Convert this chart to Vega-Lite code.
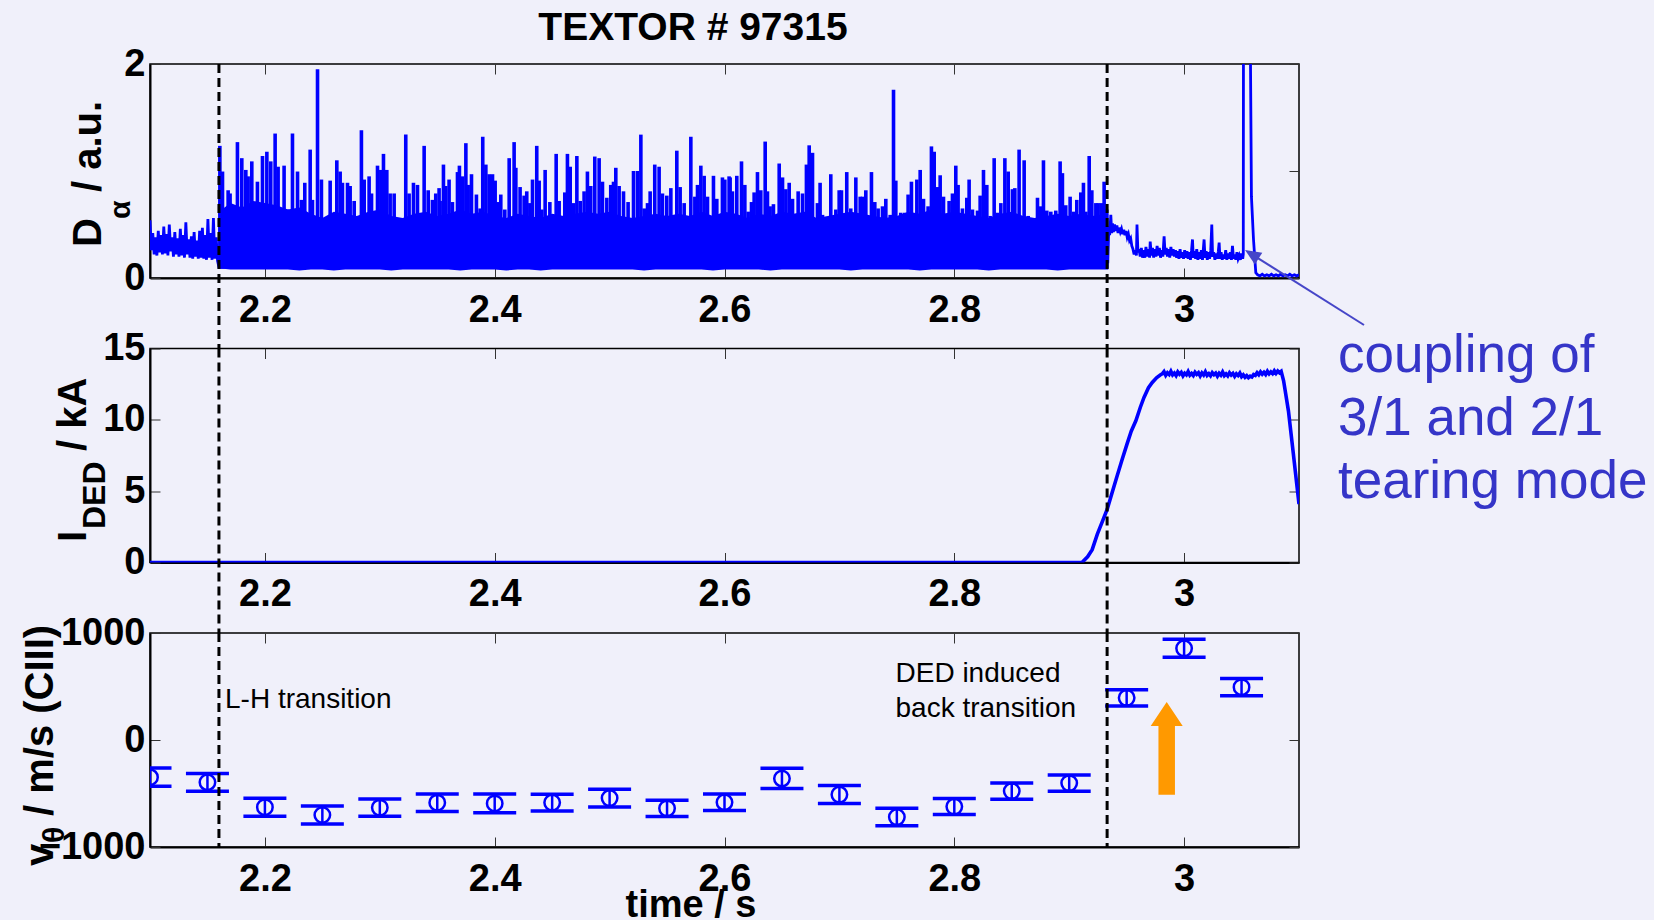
{
"$schema": "https://vega.github.io/schema/vega-lite/v6.json",
"background": "#f0f0fa",
"padding": {"left": 20, "top": 8, "right": 5, "bottom": 0},
"bounds": "flush",
"spacing": 70.5,
"config": {
 "view": {"stroke": "#000000", "strokeWidth": 1.5},
 "axis": {"grid": false, "labelFont": "Liberation Sans", "labelFontWeight": "bold", "labelFontSize": 38, "labelColor": "#000000", "tickColor": "#333333", "tickSize": -10, "tickWidth": 1, "domainColor": "#000000", "domainWidth": 2, "labelOverlap": false, "labelFlush": false},
 "text": {"font": "Liberation Sans"}
},
"datasets": {
 "origin": [{"t": 2.1, "v": 0}],
 "events": [{"t": 2.16}, {"t": 2.933}],
 "da_line": [
  {"t":2.1,"v":0.54},{"t":2.1012,"v":0.26},{"t":2.1024,"v":0.42},{"t":2.1036,"v":0.22},{"t":2.1048,"v":0.38},{"t":2.106,"v":0.21},{"t":2.1072,"v":0.44},{"t":2.1084,"v":0.24},{"t":2.1096,"v":0.4},{"t":2.1108,"v":0.22},{"t":2.112,"v":0.48},{"t":2.1132,"v":0.23},{"t":2.1144,"v":0.41},{"t":2.1156,"v":0.21},{"t":2.1168,"v":0.5},{"t":2.118,"v":0.25},{"t":2.1192,"v":0.38},{"t":2.1204,"v":0.2},{"t":2.1216,"v":0.43},{"t":2.1228,"v":0.22},{"t":2.124,"v":0.37},{"t":2.1252,"v":0.2},{"t":2.1264,"v":0.46},{"t":2.1276,"v":0.21},{"t":2.1288,"v":0.4},{"t":2.13,"v":0.19},{"t":2.1312,"v":0.52},{"t":2.1324,"v":0.22},{"t":2.1336,"v":0.36},{"t":2.1348,"v":0.19},{"t":2.136,"v":0.39},{"t":2.1372,"v":0.18},{"t":2.1384,"v":0.43},{"t":2.1396,"v":0.2},{"t":2.1408,"v":0.35},{"t":2.142,"v":0.18},{"t":2.1432,"v":0.44},{"t":2.1444,"v":0.19},{"t":2.1456,"v":0.47},{"t":2.1468,"v":0.18},{"t":2.148,"v":0.4},{"t":2.1492,"v":0.17},{"t":2.1504,"v":0.55},{"t":2.1516,"v":0.19},{"t":2.1528,"v":0.42},{"t":2.154,"v":0.17},{"t":2.1552,"v":0.56},{"t":2.1564,"v":0.18},{"t":2.1576,"v":0.38},{"t":2.1588,"v":0.16},{"t":2.16,"v":0.1},
  {"t":2.9336,"v":0.15},{"t":2.9345,"v":0.48},{"t":2.9352,"v":0.4},{"t":2.9362,"v":0.59},{"t":2.937,"v":0.42},{"t":2.9377,"v":0.51},{"t":2.9385,"v":0.43},{"t":2.9395,"v":0.5},{"t":2.9405,"v":0.44},{"t":2.9415,"v":0.49},{"t":2.9425,"v":0.42},{"t":2.9435,"v":0.47},{"t":2.9445,"v":0.43},{"t":2.9455,"v":0.46},{"t":2.9465,"v":0.41},{"t":2.9475,"v":0.45},{"t":2.9485,"v":0.4},{"t":2.9495,"v":0.44},{"t":2.9505,"v":0.38},{"t":2.9515,"v":0.41},{"t":2.9525,"v":0.35},{"t":2.9535,"v":0.37},{"t":2.9545,"v":0.3},{"t":2.9555,"v":0.27},{"t":2.9565,"v":0.22},{"t":2.9575,"v":0.26},{"t":2.9585,"v":0.21},{"t":2.959,"v":0.5},{"t":2.9598,"v":0.24},{"t":2.9608,"v":0.27},{"t":2.9618,"v":0.2},{"t":2.9628,"v":0.28},{"t":2.9638,"v":0.19},{"t":2.9648,"v":0.26},{"t":2.9658,"v":0.19},{"t":2.9668,"v":0.29},{"t":2.9678,"v":0.2},{"t":2.969,"v":0.27},{"t":2.97,"v":0.19},{"t":2.9705,"v":0.34},{"t":2.9715,"v":0.21},{"t":2.9725,"v":0.28},{"t":2.9735,"v":0.19},{"t":2.9745,"v":0.27},{"t":2.9755,"v":0.2},{"t":2.9765,"v":0.3},{"t":2.9775,"v":0.21},{"t":2.9785,"v":0.28},{"t":2.9795,"v":0.19},{"t":2.9805,"v":0.26},{"t":2.9815,"v":0.2},{"t":2.9826,"v":0.39},{"t":2.9835,"v":0.22},{"t":2.9845,"v":0.28},{"t":2.9855,"v":0.2},{"t":2.9865,"v":0.27},{"t":2.9875,"v":0.19},{"t":2.9885,"v":0.29},{"t":2.9895,"v":0.21},{"t":2.9905,"v":0.27},{"t":2.9915,"v":0.2},{"t":2.9925,"v":0.26},{"t":2.9935,"v":0.19},{"t":2.9945,"v":0.25},{"t":2.9955,"v":0.18},{"t":2.9965,"v":0.27},{"t":2.9975,"v":0.19},{"t":2.9985,"v":0.24},{"t":2.9995,"v":0.18},{"t":3.0005,"v":0.26},{"t":3.0015,"v":0.19},{"t":3.0025,"v":0.25},{"t":3.0035,"v":0.18},{"t":3.0045,"v":0.24},{"t":3.0055,"v":0.17},{"t":3.0065,"v":0.26},{"t":3.0073,"v":0.36},{"t":3.008,"v":0.19},{"t":3.009,"v":0.25},{"t":3.01,"v":0.18},{"t":3.011,"v":0.27},{"t":3.012,"v":0.17},{"t":3.013,"v":0.24},{"t":3.014,"v":0.18},{"t":3.015,"v":0.26},{"t":3.016,"v":0.17},{"t":3.0174,"v":0.36},{"t":3.0182,"v":0.19},{"t":3.0192,"v":0.25},{"t":3.0202,"v":0.17},{"t":3.0212,"v":0.24},{"t":3.0222,"v":0.18},{"t":3.0232,"v":0.26},{"t":3.0241,"v":0.5},{"t":3.0248,"v":0.2},{"t":3.0258,"v":0.24},{"t":3.0268,"v":0.17},{"t":3.0278,"v":0.23},{"t":3.0288,"v":0.18},{"t":3.0298,"v":0.25},{"t":3.0305,"v":0.33},{"t":3.0312,"v":0.18},{"t":3.0322,"v":0.24},{"t":3.0332,"v":0.17},{"t":3.0342,"v":0.22},{"t":3.0352,"v":0.18},{"t":3.0362,"v":0.26},{"t":3.0372,"v":0.17},{"t":3.0382,"v":0.23},{"t":3.0392,"v":0.18},{"t":3.0402,"v":0.24},{"t":3.0412,"v":0.17},{"t":3.0421,"v":0.3},{"t":3.043,"v":0.18},{"t":3.044,"v":0.22},{"t":3.045,"v":0.17},{"t":3.046,"v":0.24},{"t":3.047,"v":0.18},{"t":3.048,"v":0.21},{"t":3.049,"v":0.17},{"t":3.05,"v":0.23},{"t":3.051,"v":0.18},{"t":3.0515,"v":0.22},{"t":3.0517,"v":2.6},{"t":3.0574,"v":2.6},{"t":3.0586,"v":0.76},{"t":3.0604,"v":0.36},{"t":3.0624,"v":0.05},{"t":3.064,"v":0.03},{"t":3.066,"v":0.02},{"t":3.068,"v":0.035},{"t":3.07,"v":0.02},{"t":3.072,"v":0.03},{"t":3.074,"v":0.02},{"t":3.076,"v":0.035},{"t":3.078,"v":0.02},{"t":3.08,"v":0.03},{"t":3.082,"v":0.02},{"t":3.084,"v":0.035},{"t":3.086,"v":0.02},{"t":3.088,"v":0.03},{"t":3.09,"v":0.02},{"t":3.092,"v":0.035},{"t":3.094,"v":0.02},{"t":3.096,"v":0.03},{"t":3.098,"v":0.02},{"t":3.1,"v":0.03}
 ],
 "da_band": [
  {"t":2.16,"lo":0.09,"hi":0.62},{"t":2.17,"lo":0.08,"hi":0.7},{"t":2.18,"lo":0.08,"hi":0.66},{"t":2.19,"lo":0.08,"hi":0.72},{"t":2.2,"lo":0.08,"hi":0.7},{"t":2.21,"lo":0.08,"hi":0.68},{"t":2.22,"lo":0.08,"hi":0.64},{"t":2.23,"lo":0.07,"hi":0.66},{"t":2.24,"lo":0.08,"hi":0.6},{"t":2.25,"lo":0.08,"hi":0.56},{"t":2.26,"lo":0.07,"hi":0.62},{"t":2.27,"lo":0.08,"hi":0.6},{"t":2.28,"lo":0.08,"hi":0.58},{"t":2.29,"lo":0.08,"hi":0.62},{"t":2.3,"lo":0.08,"hi":0.64},{"t":2.31,"lo":0.07,"hi":0.58},{"t":2.32,"lo":0.08,"hi":0.56},{"t":2.33,"lo":0.08,"hi":0.6},{"t":2.34,"lo":0.08,"hi":0.62},{"t":2.35,"lo":0.08,"hi":0.58},{"t":2.36,"lo":0.08,"hi":0.6},{"t":2.37,"lo":0.07,"hi":0.64},{"t":2.38,"lo":0.08,"hi":0.6},{"t":2.39,"lo":0.08,"hi":0.62},{"t":2.4,"lo":0.08,"hi":0.58},{"t":2.41,"lo":0.07,"hi":0.56},{"t":2.42,"lo":0.08,"hi":0.6},{"t":2.43,"lo":0.08,"hi":0.58},{"t":2.44,"lo":0.07,"hi":0.56},{"t":2.45,"lo":0.08,"hi":0.6},{"t":2.46,"lo":0.08,"hi":0.58},{"t":2.47,"lo":0.08,"hi":0.6},{"t":2.48,"lo":0.08,"hi":0.62},{"t":2.49,"lo":0.08,"hi":0.6},{"t":2.5,"lo":0.08,"hi":0.62},{"t":2.51,"lo":0.08,"hi":0.58},{"t":2.52,"lo":0.08,"hi":0.56},{"t":2.53,"lo":0.07,"hi":0.58},{"t":2.54,"lo":0.08,"hi":0.6},{"t":2.55,"lo":0.08,"hi":0.58},{"t":2.56,"lo":0.08,"hi":0.6},{"t":2.57,"lo":0.08,"hi":0.58},{"t":2.58,"lo":0.08,"hi":0.62},{"t":2.59,"lo":0.07,"hi":0.58},{"t":2.6,"lo":0.08,"hi":0.62},{"t":2.61,"lo":0.08,"hi":0.6},{"t":2.62,"lo":0.08,"hi":0.56},{"t":2.63,"lo":0.08,"hi":0.6},{"t":2.64,"lo":0.07,"hi":0.58},{"t":2.65,"lo":0.08,"hi":0.62},{"t":2.66,"lo":0.08,"hi":0.6},{"t":2.67,"lo":0.08,"hi":0.62},{"t":2.68,"lo":0.08,"hi":0.56},{"t":2.69,"lo":0.08,"hi":0.58},{"t":2.7,"lo":0.08,"hi":0.6},{"t":2.71,"lo":0.07,"hi":0.62},{"t":2.72,"lo":0.08,"hi":0.6},{"t":2.73,"lo":0.08,"hi":0.58},{"t":2.74,"lo":0.08,"hi":0.56},{"t":2.75,"lo":0.08,"hi":0.58},{"t":2.76,"lo":0.08,"hi":0.62},{"t":2.77,"lo":0.07,"hi":0.6},{"t":2.78,"lo":0.08,"hi":0.64},{"t":2.79,"lo":0.08,"hi":0.6},{"t":2.8,"lo":0.08,"hi":0.62},{"t":2.81,"lo":0.08,"hi":0.6},{"t":2.82,"lo":0.08,"hi":0.58},{"t":2.83,"lo":0.07,"hi":0.56},{"t":2.84,"lo":0.08,"hi":0.6},{"t":2.85,"lo":0.08,"hi":0.62},{"t":2.86,"lo":0.08,"hi":0.58},{"t":2.87,"lo":0.08,"hi":0.56},{"t":2.88,"lo":0.08,"hi":0.58},{"t":2.89,"lo":0.07,"hi":0.6},{"t":2.9,"lo":0.08,"hi":0.58},{"t":2.91,"lo":0.08,"hi":0.6},{"t":2.92,"lo":0.08,"hi":0.58},{"t":2.934,"lo":0.08,"hi":0.6}
 ],
 "da_spikes": [
  {"t":2.1608,"v":1.235},{"t":2.1631,"v":0.995},{"t":2.168,"v":0.82},{"t":2.1697,"v":0.79},{"t":2.1761,"v":1.27},{"t":2.1799,"v":1.12},{"t":2.1834,"v":1.01},{"t":2.1854,"v":0.95},{"t":2.1886,"v":1.09},{"t":2.1935,"v":0.9},{"t":2.1979,"v":1.14},{"t":2.2017,"v":1.18},{"t":2.2051,"v":1.09},{"t":2.2089,"v":1.35},{"t":2.2115,"v":1.04},{"t":2.2167,"v":1.05},{"t":2.2196,"v":0.64},{"t":2.224,"v":1.35},{"t":2.2284,"v":0.995},{"t":2.2318,"v":0.73},{"t":2.2347,"v":0.89},{"t":2.2394,"v":1.2},{"t":2.2414,"v":0.73},{"t":2.2458,"v":1.95},{"t":2.2492,"v":0.92},{"t":2.253,"v":0.56},{"t":2.2568,"v":0.91},{"t":2.2626,"v":1.1},{"t":2.2655,"v":0.995},{"t":2.2675,"v":0.89},{"t":2.2719,"v":0.89},{"t":2.2742,"v":0.86},{"t":2.2777,"v":0.72},{"t":2.284,"v":1.38},{"t":2.2864,"v":0.92},{"t":2.2907,"v":0.95},{"t":2.2928,"v":0.79},{"t":2.298,"v":1.05},{"t":2.3009,"v":1.01},{"t":2.3032,"v":1.16},{"t":2.3061,"v":1.01},{"t":2.309,"v":0.79},{"t":2.3125,"v":0.79},{"t":2.3168,"v":0.54},{"t":2.3226,"v":1.34},{"t":2.3255,"v":0.79},{"t":2.3293,"v":0.89},{"t":2.3328,"v":0.87},{"t":2.3386,"v":1.235},{"t":2.3421,"v":0.82},{"t":2.3458,"v":0.73},{"t":2.3487,"v":0.79},{"t":2.3516,"v":0.84},
  {"t":2.3525,"v":0.72},{"t":2.3554,"v":1.06},{"t":2.3574,"v":0.86},{"t":2.3603,"v":0.92},{"t":2.3632,"v":0.71},{"t":2.3676,"v":0.99},{"t":2.3693,"v":1.05},{"t":2.3719,"v":0.95},{"t":2.3749,"v":1.26},{"t":2.3769,"v":0.87},{"t":2.3798,"v":0.97},{"t":2.3841,"v":0.78},{"t":2.3873,"v":0.65},{"t":2.3896,"v":1.32},{"t":2.3923,"v":1.06},{"t":2.3952,"v":0.97},{"t":2.3981,"v":0.97},{"t":2.4004,"v":0.91},{"t":2.4024,"v":0.71},{"t":2.4053,"v":0.78},{"t":2.4088,"v":0.64},{"t":2.4126,"v":1.12},{"t":2.4169,"v":1.27},{"t":2.4184,"v":1.03},{"t":2.4221,"v":0.85},{"t":2.4256,"v":0.77},{"t":2.4279,"v":0.81},{"t":2.4306,"v":0.7},{"t":2.4329,"v":0.92},{"t":2.4366,"v":1.235},{"t":2.4387,"v":0.91},{"t":2.441,"v":0.64},{"t":2.4439,"v":1.01},{"t":2.448,"v":0.71},{"t":2.4503,"v":0.59},{"t":2.4535,"v":1.16},{"t":2.4561,"v":0.72},{"t":2.461,"v":0.8},{"t":2.4633,"v":1.16},{"t":2.4657,"v":1.04},{"t":2.4686,"v":0.7},{"t":2.4715,"v":1.14},{"t":2.4744,"v":0.72},{"t":2.4778,"v":0.81},{"t":2.4807,"v":0.995},{"t":2.4836,"v":0.86},{"t":2.4871,"v":1.135},{"t":2.4909,"v":1.12},{"t":2.4938,"v":0.9},{"t":2.4976,"v":0.75},{"t":2.501,"v":0.87},{"t":2.5034,"v":0.9},{"t":2.5054,"v":1.03},{"t":2.5083,"v":0.86},{"t":2.5121,"v":0.81},{"t":2.5161,"v":0.71},{"t":2.5208,"v":1.0},{"t":2.5243,"v":1.0},{"t":2.5272,"v":1.34},{"t":2.5301,"v":0.65},{"t":2.533,"v":0.7},{"t":2.5353,"v":0.81},{"t":2.5393,"v":1.06},{"t":2.5431,"v":1.04},{"t":2.546,"v":0.79},{"t":2.5498,"v":0.77},{"t":2.5533,"v":0.84},{"t":2.5585,"v":1.19},{"t":2.5614,"v":0.85},{"t":2.5649,"v":0.7},{"t":2.5707,"v":1.32},{"t":2.5742,"v":0.76},{"t":2.5765,"v":0.87},{"t":2.5794,"v":1.05},{"t":2.5823,"v":0.955},{"t":2.5852,"v":0.76},{"t":2.5904,"v":0.955},{"t":2.5933,"v":0.74},{"t":2.5982,"v":0.94},{"t":2.6003,"v":0.92},{"t":2.604,"v":0.95},
  {"t":2.6049,"v":0.94},{"t":2.6069,"v":0.81},{"t":2.6107,"v":0.955},{"t":2.6148,"v":1.09},{"t":2.6177,"v":0.87},{"t":2.6206,"v":0.62},{"t":2.6235,"v":0.71},{"t":2.6258,"v":0.8},{"t":2.6287,"v":0.99},{"t":2.6316,"v":0.82},{"t":2.6354,"v":1.275},{"t":2.6374,"v":0.81},{"t":2.6397,"v":0.67},{"t":2.6426,"v":0.69},{"t":2.6476,"v":1.07},{"t":2.6505,"v":0.94},{"t":2.6534,"v":0.83},{"t":2.6563,"v":0.89},{"t":2.6592,"v":0.74},{"t":2.6641,"v":0.81},{"t":2.6679,"v":0.79},{"t":2.6713,"v":1.06},{"t":2.6737,"v":1.24},{"t":2.6766,"v":1.17},{"t":2.6809,"v":0.7},{"t":2.6832,"v":0.89},{"t":2.6853,"v":0.59},{"t":2.689,"v":0.57},{"t":2.6925,"v":0.97},{"t":2.6969,"v":0.64},{"t":2.6998,"v":0.82},{"t":2.7018,"v":0.82},{"t":2.7064,"v":0.99},{"t":2.7099,"v":0.65},{"t":2.7143,"v":0.94},{"t":2.7181,"v":0.76},{"t":2.7201,"v":0.76},{"t":2.723,"v":0.82},{"t":2.7279,"v":0.99},{"t":2.7308,"v":0.71},{"t":2.7337,"v":0.65},{"t":2.7375,"v":0.67},{"t":2.7404,"v":0.74},{"t":2.7442,"v":0.59},{"t":2.7471,"v":1.76},{"t":2.7491,"v":0.91},{"t":2.7534,"v":0.61},{"t":2.7569,"v":0.61},{"t":2.7598,"v":0.78},{"t":2.7627,"v":0.9},{"t":2.7674,"v":0.92},{"t":2.7703,"v":1.01},{"t":2.7732,"v":0.74},{"t":2.7772,"v":0.67},{"t":2.7801,"v":1.23},{"t":2.7825,"v":1.18},{"t":2.7854,"v":0.85},{"t":2.7877,"v":0.96},{"t":2.7906,"v":0.76},{"t":2.7955,"v":0.72},{"t":2.7984,"v":0.79},{"t":2.8013,"v":1.05},{"t":2.8033,"v":0.87},{"t":2.8071,"v":0.65},{"t":2.8109,"v":0.75},{"t":2.8129,"v":0.92},{"t":2.8158,"v":0.64},{"t":2.8202,"v":0.63},{"t":2.8225,"v":0.77},{"t":2.8254,"v":1.01},{"t":2.8283,"v":0.87},{"t":2.8312,"v":0.58},{"t":2.8347,"v":1.12},{"t":2.8376,"v":0.61},{"t":2.8405,"v":0.7},{"t":2.844,"v":1.12},{"t":2.8469,"v":0.995},{"t":2.8506,"v":0.83},{"t":2.8527,"v":0.84},{"t":2.8564,"v":1.2},
  {"t":2.8608,"v":1.1},{"t":2.8643,"v":0.58},{"t":2.868,"v":0.51},{"t":2.8724,"v":0.75},{"t":2.8753,"v":0.67},{"t":2.8776,"v":1.1},{"t":2.8805,"v":0.63},{"t":2.884,"v":0.62},{"t":2.8883,"v":0.63},{"t":2.8921,"v":1.09},{"t":2.8941,"v":0.98},{"t":2.897,"v":0.68},{"t":2.9008,"v":0.76},{"t":2.9037,"v":0.62},{"t":2.9066,"v":0.73},{"t":2.9101,"v":0.8},{"t":2.9124,"v":0.89},{"t":2.9145,"v":0.62},{"t":2.9174,"v":1.14},{"t":2.9197,"v":0.82},{"t":2.9232,"v":0.7},{"t":2.9252,"v":0.7},{"t":2.9281,"v":0.7},{"t":2.9304,"v":0.9},{"t":2.9327,"v":0.64}
 ],
 "ided": [
  {"t":2.1,"v":0.0},{"t":2.3,"v":0.0},{"t":2.5,"v":0.0},{"t":2.7,"v":0.0},{"t":2.9111,"v":0.0},{"t":2.916,"v":0.4},{"t":2.92,"v":0.9},{"t":2.9245,"v":1.99},{"t":2.929,"v":2.9},{"t":2.9331,"v":3.74},{"t":2.937,"v":4.8},{"t":2.9413,"v":5.96},{"t":2.946,"v":7.2},{"t":2.9503,"v":8.3},{"t":2.954,"v":9.2},{"t":2.958,"v":9.93},{"t":2.962,"v":10.9},{"t":2.9651,"v":11.57},{"t":2.969,"v":12.25},{"t":2.9723,"v":12.62},{"t":2.976,"v":12.95},{"t":2.9795,"v":13.16},
  {"t":2.981,"v":13.22},{"t":2.9825,"v":13.38},{"t":2.984,"v":13.12},{"t":2.9855,"v":13.3},{"t":2.987,"v":13.18},{"t":2.9885,"v":13.41},{"t":2.99,"v":13.15},{"t":2.9915,"v":13.28},{"t":2.993,"v":13.1},{"t":2.9945,"v":13.36},{"t":2.996,"v":13.2},{"t":2.9975,"v":13.33},{"t":2.999,"v":13.08},{"t":3.0005,"v":13.27},{"t":3.002,"v":13.16},{"t":3.0035,"v":13.39},{"t":3.005,"v":13.13},{"t":3.0065,"v":13.25},{"t":3.008,"v":13.11},{"t":3.0095,"v":13.34},{"t":3.011,"v":13.19},{"t":3.0125,"v":13.3},{"t":3.014,"v":13.07},{"t":3.0155,"v":13.29},{"t":3.017,"v":13.14},{"t":3.0185,"v":13.37},{"t":3.02,"v":13.12},{"t":3.0215,"v":13.24},{"t":3.023,"v":13.09},{"t":3.0245,"v":13.31},{"t":3.026,"v":13.17},{"t":3.0275,"v":13.28},{"t":3.029,"v":13.06},{"t":3.0305,"v":13.26},{"t":3.032,"v":13.13},{"t":3.0335,"v":13.35},{"t":3.035,"v":13.1},{"t":3.0365,"v":13.22},{"t":3.038,"v":13.08},{"t":3.0395,"v":13.3},{"t":3.041,"v":13.14},{"t":3.0425,"v":13.26},{"t":3.044,"v":13.05},{"t":3.0455,"v":13.23},{"t":3.047,"v":13.11},{"t":3.0485,"v":13.28},{"t":3.05,"v":13.03},{"t":3.0515,"v":13.15},{"t":3.053,"v":12.98},{"t":3.0545,"v":13.1},{"t":3.056,"v":12.95},{"t":3.0575,"v":13.06},{"t":3.059,"v":13.0},{"t":3.0605,"v":13.18},{"t":3.062,"v":13.12},{"t":3.0635,"v":13.3},{"t":3.065,"v":13.16},{"t":3.0665,"v":13.36},{"t":3.068,"v":13.2},{"t":3.0695,"v":13.33},{"t":3.071,"v":13.18},{"t":3.0725,"v":13.4},{"t":3.074,"v":13.22},{"t":3.0755,"v":13.36},{"t":3.077,"v":13.24},{"t":3.0785,"v":13.44},{"t":3.08,"v":13.26},{"t":3.0815,"v":13.42},{"t":3.083,"v":13.3},{"t":3.0845,"v":13.4},{"t":3.0866,"v":12.74},{"t":3.0908,"v":10.63},{"t":3.0951,"v":7.6},{"t":3.1,"v":4.09}
 ],
 "vel": [
  {"t":2.1,"v":-348,"lo":-433,"hi":-262},{"t":2.15,"v":-395,"lo":-479,"hi":-312},{"t":2.2,"v":-628,"lo":-712,"hi":-544},{"t":2.25,"v":-701,"lo":-786,"hi":-616},{"t":2.3,"v":-632,"lo":-712,"hi":-551},{"t":2.35,"v":-586,"lo":-668,"hi":-504},{"t":2.4,"v":-593,"lo":-681,"hi":-504},{"t":2.45,"v":-585,"lo":-663,"hi":-508},{"t":2.5,"v":-543,"lo":-625,"hi":-460},{"t":2.55,"v":-639,"lo":-715,"hi":-563},{"t":2.6,"v":-582,"lo":-659,"hi":-504},{"t":2.65,"v":-360,"lo":-454,"hi":-265},{"t":2.7,"v":-510,"lo":-594,"hi":-426},{"t":2.75,"v":-720,"lo":-802,"hi":-637},{"t":2.8,"v":-622,"lo":-696,"hi":-547},{"t":2.85,"v":-477,"lo":-553,"hi":-402},{"t":2.9,"v":-403,"lo":-479,"hi":-327},{"t":2.95,"v":394,"lo":318,"hi":470},{"t":3.0,"v":857,"lo":774,"hi":941},{"t":3.05,"v":494,"lo":414,"hi":575}
 ]
},
"vconcat": [
 {
  "width": 1149, "height": 214,
  "resolve": {"axis": {"x": "independent", "y": "independent"}},
  "layer": [
   {"data": {"name": "origin"}, "mark": {"type": "point", "opacity": 0},
    "encoding": {
     "x": {"field": "t", "type": "quantitative", "scale": {"domain": [2.1, 3.1], "nice": false, "zero": false}, "axis": {"orient": "top", "labels": false, "domain": false, "values": [2.2, 2.4, 2.6, 2.8, 3], "title": null}},
     "y": {"field": "v", "type": "quantitative", "scale": {"domain": [0, 2], "nice": false, "zero": false}, "axis": {"orient": "right", "labels": false, "domain": false, "values": [0, 1, 2], "title": null}}}},
   {"data": {"name": "da_line"}, "mark": {"type": "line", "color": "#0000ff", "strokeWidth": 2.8, "clip": true},
    "encoding": {
     "x": {"field": "t", "type": "quantitative", "axis": {"orient": "bottom", "values": [2.2, 2.4, 2.6, 2.8, 3], "format": ".1~f", "labelPadding": 23, "title": null}},
     "y": {"field": "v", "type": "quantitative", "axis": {"orient": "left", "values": [0, 1, 2], "format": "d", "labelPadding": 15, "title": null}}}},
   {"data": {"name": "da_band"}, "mark": {"type": "area", "color": "#0000ff", "opacity": 1},
    "encoding": {"x": {"field": "t", "type": "quantitative", "axis": null}, "y": {"field": "hi", "type": "quantitative", "axis": null}, "y2": {"field": "lo"}}},
   {"data": {"name": "da_spikes"}, "mark": {"type": "rule", "color": "#0000ff", "strokeWidth": 3.6, "clip": true},
    "encoding": {"x": {"field": "t", "type": "quantitative", "axis": null}, "y": {"field": "v", "type": "quantitative", "axis": null}, "y2": {"datum": 0.09}}},
   {"data": {"name": "events"}, "mark": {"type": "rule", "color": "#000000", "strokeWidth": 3, "strokeDash": [9, 5]},
    "encoding": {"x": {"field": "t", "type": "quantitative", "axis": null}, "y": {"datum": 2, "type": "quantitative", "axis": null}, "y2": {"datum": -0.659}}},
   {"data": {"name": "origin"}, "mark": {"type": "rule", "color": "#4646c8", "strokeWidth": 2},
    "encoding": {"x": {"datum": 3.15657, "type": "quantitative", "axis": null}, "y": {"datum": -0.4393, "type": "quantitative", "axis": null}, "x2": {"datum": 3.05893}, "y2": {"datum": 0.2215}}},
   {"data": {"name": "origin"}, "mark": {"type": "point", "shape": "M0,-1L0.875,1L-0.875,1Z", "size": 256, "angle": 302.2, "filled": true, "color": "#4646c8", "opacity": 1},
    "encoding": {"x": {"datum": 3.05893, "type": "quantitative", "axis": null}, "y": {"datum": 0.2215, "type": "quantitative", "axis": null}}},
   {"data": {"name": "origin"}, "mark": {"type": "text", "text": "TEXTOR # 97315", "fontWeight": "bold", "fontSize": 39, "align": "center", "baseline": "alphabetic", "color": "#000000"},
    "encoding": {"x": {"datum": 2.57258, "type": "quantitative", "axis": null}, "y": {"datum": 2.2243, "type": "quantitative", "axis": null}}},
   {"data": {"name": "origin"}, "mark": {"type": "text", "text": "D", "fontWeight": "bold", "fontSize": 40, "angle": 270, "align": "left", "baseline": "alphabetic", "color": "#000000"},
    "encoding": {"x": {"datum": 2.05735, "type": "quantitative", "axis": null}, "y": {"datum": 0.2897, "type": "quantitative", "axis": null}}},
   {"data": {"name": "origin"}, "mark": {"type": "text", "text": "α", "fontWeight": "bold", "fontSize": 30, "angle": 270, "align": "left", "baseline": "alphabetic", "color": "#000000"},
    "encoding": {"x": {"datum": 2.08259, "type": "quantitative", "axis": null}, "y": {"datum": 0.5514, "type": "quantitative", "axis": null}}},
   {"data": {"name": "origin"}, "mark": {"type": "text", "text": "/ a.u.", "fontWeight": "bold", "fontSize": 40, "angle": 270, "align": "left", "baseline": "alphabetic", "color": "#000000"},
    "encoding": {"x": {"datum": 2.05735, "type": "quantitative", "axis": null}, "y": {"datum": 0.8037, "type": "quantitative", "axis": null}}}
  ]
 },
 {
  "width": 1149, "height": 214,
  "resolve": {"axis": {"x": "independent", "y": "independent"}},
  "layer": [
   {"data": {"name": "origin"}, "mark": {"type": "point", "opacity": 0},
    "encoding": {
     "x": {"field": "t", "type": "quantitative", "scale": {"domain": [2.1, 3.1], "nice": false, "zero": false}, "axis": {"orient": "top", "labels": false, "domain": false, "values": [2.2, 2.4, 2.6, 2.8, 3], "title": null}},
     "y": {"field": "v", "type": "quantitative", "scale": {"domain": [0, 15], "nice": false, "zero": false}, "axis": {"orient": "right", "labels": false, "domain": false, "values": [0, 5, 10, 15], "title": null}}}},
   {"data": {"name": "ided"}, "mark": {"type": "line", "color": "#0000ff", "strokeWidth": 3.6, "clip": true},
    "encoding": {
     "x": {"field": "t", "type": "quantitative", "axis": {"orient": "bottom", "values": [2.2, 2.4, 2.6, 2.8, 3], "format": ".1~f", "labelPadding": 23, "title": null}},
     "y": {"field": "v", "type": "quantitative", "axis": {"orient": "left", "values": [0, 5, 10, 15], "format": "d", "labelPadding": 15, "title": null}}}},
   {"data": {"name": "events"}, "mark": {"type": "rule", "color": "#000000", "strokeWidth": 3, "strokeDash": [9, 5]},
    "encoding": {"x": {"field": "t", "type": "quantitative", "axis": null}, "y": {"datum": 15, "type": "quantitative", "axis": null}, "y2": {"datum": -4.942}}},
   {"data": {"name": "origin"}, "mark": {"type": "text", "text": ["coupling of", "3/1 and 2/1", "tearing mode"], "fontSize": 53, "lineHeight": 63, "align": "left", "baseline": "alphabetic", "color": "#3535c8"},
    "encoding": {"x": {"datum": 3.13394, "type": "quantitative", "axis": null}, "y": {"datum": 13.353, "type": "quantitative", "axis": null}}},
   {"data": {"name": "origin"}, "mark": {"type": "text", "text": "I", "fontWeight": "bold", "fontSize": 40, "angle": 270, "align": "left", "baseline": "alphabetic", "color": "#000000"},
    "encoding": {"x": {"datum": 2.0443, "type": "quantitative", "axis": null}, "y": {"datum": 1.437, "type": "quantitative", "axis": null}}},
   {"data": {"name": "origin"}, "mark": {"type": "text", "text": "DED", "fontWeight": "bold", "fontSize": 32, "angle": 270, "align": "left", "baseline": "alphabetic", "color": "#000000"},
    "encoding": {"x": {"datum": 2.06084, "type": "quantitative", "axis": null}, "y": {"datum": 2.348, "type": "quantitative", "axis": null}}},
   {"data": {"name": "origin"}, "mark": {"type": "text", "text": "/ kA", "fontWeight": "bold", "fontSize": 40, "angle": 270, "align": "left", "baseline": "alphabetic", "color": "#000000"},
    "encoding": {"x": {"datum": 2.0443, "type": "quantitative", "axis": null}, "y": {"datum": 7.815, "type": "quantitative", "axis": null}}}
  ]
 },
 {
  "width": 1149, "height": 214,
  "resolve": {"axis": {"x": "independent", "y": "independent"}},
  "layer": [
   {"data": {"name": "origin"}, "mark": {"type": "point", "opacity": 0},
    "encoding": {
     "x": {"field": "t", "type": "quantitative", "scale": {"domain": [2.1, 3.1], "nice": false, "zero": false}, "axis": {"orient": "top", "labels": false, "domain": false, "values": [2.2, 2.4, 2.6, 2.8, 3], "title": null}},
     "y": {"field": "v", "type": "quantitative", "scale": {"domain": [-1000, 1000], "nice": false, "zero": false}, "axis": {"orient": "right", "labels": false, "domain": false, "values": [-1000, 0, 1000], "title": null}}}},
   {"data": {"name": "vel"}, "mark": {"type": "rule", "color": "#0000ff", "strokeWidth": 2.5, "clip": true},
    "encoding": {
     "x": {"field": "t", "type": "quantitative", "axis": {"orient": "bottom", "values": [2.2, 2.4, 2.6, 2.8, 3], "format": ".1~f", "labelPadding": 23, "title": null}},
     "y": {"field": "lo", "type": "quantitative", "axis": {"orient": "left", "values": [-1000, 0, 1000], "format": "d", "labelPadding": 15, "title": null}},
     "y2": {"field": "hi"}}},
   {"data": {"name": "vel"}, "mark": {"type": "tick", "orient": "horizontal", "color": "#0000ff", "size": 43, "thickness": 3.5, "opacity": 1, "clip": true},
    "encoding": {"x": {"field": "t", "type": "quantitative", "axis": null}, "y": {"field": "lo", "type": "quantitative", "axis": null}}},
   {"data": {"name": "vel"}, "mark": {"type": "tick", "orient": "horizontal", "color": "#0000ff", "size": 43, "thickness": 3.5, "opacity": 1, "clip": true},
    "encoding": {"x": {"field": "t", "type": "quantitative", "axis": null}, "y": {"field": "hi", "type": "quantitative", "axis": null}}},
   {"data": {"name": "vel"}, "mark": {"type": "point", "shape": "circle", "filled": false, "size": 240, "strokeWidth": 2.5, "color": "#0000ff", "opacity": 1, "clip": true},
    "encoding": {"x": {"field": "t", "type": "quantitative", "axis": null}, "y": {"field": "v", "type": "quantitative", "axis": null}}},
   {"data": {"name": "events"}, "mark": {"type": "rule", "color": "#000000", "strokeWidth": 3, "strokeDash": [9, 5]},
    "encoding": {"x": {"field": "t", "type": "quantitative", "axis": null}, "y": {"datum": 1000, "type": "quantitative", "axis": null}, "y2": {"datum": -1000}}},
   {"data": {"name": "origin"}, "mark": {"type": "point", "shape": "M0,-1L0.345,-0.482L0.178,-0.482L0.178,1L-0.178,1L-0.178,-0.482L-0.345,-0.482Z", "size": 8593, "filled": true, "color": "#ff9900", "opacity": 1},
    "encoding": {"x": {"datum": 2.98486, "type": "quantitative", "axis": null}, "y": {"datum": -78, "type": "quantitative", "axis": null}}},
   {"data": {"name": "origin"}, "mark": {"type": "text", "text": "L-H transition", "fontSize": 28, "align": "left", "baseline": "alphabetic", "color": "#000000"},
    "encoding": {"x": {"datum": 2.16527, "type": "quantitative", "axis": null}, "y": {"datum": 299, "type": "quantitative", "axis": null}}},
   {"data": {"name": "origin"}, "mark": {"type": "text", "text": ["DED induced", "back transition"], "fontSize": 28, "lineHeight": 35, "align": "left", "baseline": "alphabetic", "color": "#000000"},
    "encoding": {"x": {"datum": 2.74883, "type": "quantitative", "axis": null}, "y": {"datum": 542, "type": "quantitative", "axis": null}}},
   {"data": {"name": "origin"}, "mark": {"type": "text", "text": "time / s", "fontWeight": "bold", "fontSize": 38, "align": "center", "baseline": "alphabetic", "color": "#000000"},
    "encoding": {"x": {"datum": 2.57084, "type": "quantitative", "axis": null}, "y": {"datum": -1654, "type": "quantitative", "axis": null}}},
   {"data": {"name": "origin"}, "mark": {"type": "text", "text": "v", "fontWeight": "bold", "fontSize": 40, "angle": 270, "align": "left", "baseline": "alphabetic", "color": "#000000"},
    "encoding": {"x": {"datum": 2.01558, "type": "quantitative", "axis": null}, "y": {"datum": -1177.6, "type": "quantitative", "axis": null}}},
   {"data": {"name": "origin"}, "mark": {"type": "text", "text": "θ", "fontWeight": "bold", "fontSize": 30, "angle": 270, "align": "left", "baseline": "alphabetic", "color": "#000000"},
    "encoding": {"x": {"datum": 2.02515, "type": "quantitative", "axis": null}, "y": {"datum": -962.6, "type": "quantitative", "axis": null}}},
   {"data": {"name": "origin"}, "mark": {"type": "text", "text": "/ m/s (CIII)", "fontWeight": "bold", "fontSize": 40, "angle": 270, "align": "left", "baseline": "alphabetic", "color": "#000000"},
    "encoding": {"x": {"datum": 2.01558, "type": "quantitative", "axis": null}, "y": {"datum": -710.3, "type": "quantitative", "axis": null}}}
  ]
 }
]
}
